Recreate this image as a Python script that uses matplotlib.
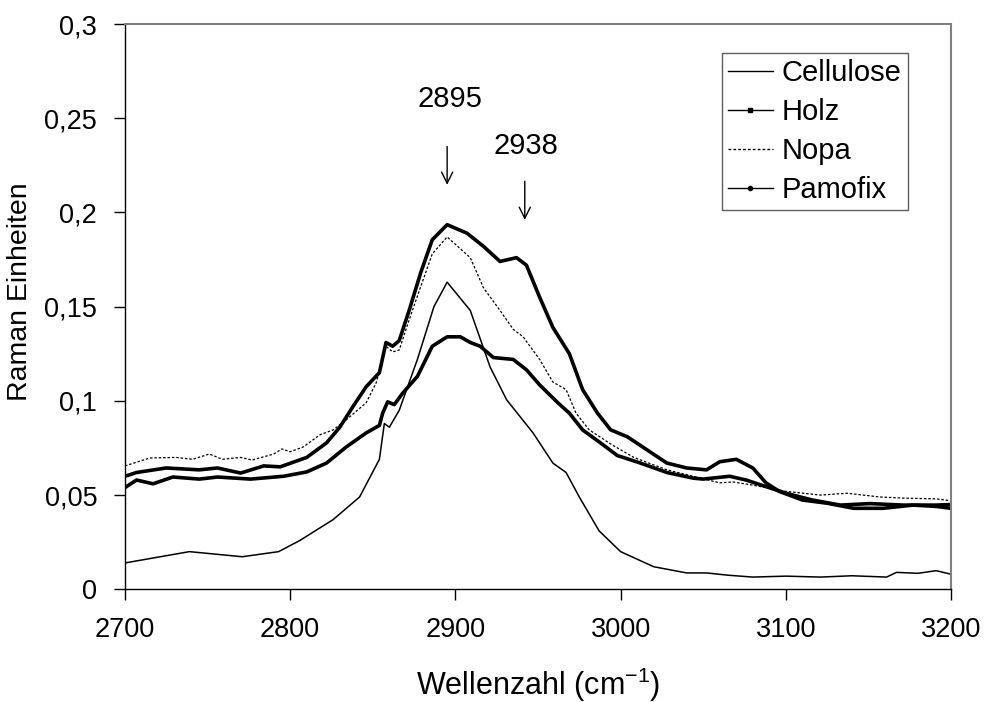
import matplotlib
matplotlib.use("Agg")
import matplotlib.pyplot as plt
from matplotlib.lines import Line2D
from matplotlib.ticker import FuncFormatter

plt.rcParams['font.family'] = ['Liberation Sans', 'DejaVu Sans']

# ---- data ----
cell_x = [2700, 2739, 2771, 2793, 2806, 2826, 2842, 2854, 2857, 2860, 2866, 2877, 2887, 2895,
          2909, 2921, 2931, 2947, 2959, 2967, 2975, 2987, 3000, 3020, 3040, 3052, 3065, 3080,
          3100, 3121, 3140, 3161, 3167, 3180, 3191, 3200]
cell_y = [0.014, 0.020, 0.0173, 0.020, 0.026, 0.037, 0.049, 0.069, 0.088, 0.086, 0.095, 0.122, 0.150, 0.163,
          0.148, 0.118, 0.1006, 0.083, 0.067, 0.062, 0.049, 0.031, 0.020, 0.012, 0.0087, 0.0087, 0.0075, 0.0065,
          0.0070, 0.0065, 0.0072, 0.0065, 0.009, 0.0085, 0.0099, 0.008]

holz_x = [2700, 2707, 2725, 2745, 2756, 2770, 2784, 2794, 2810, 2822, 2830, 2838, 2846, 2854, 2858,
          2862, 2866, 2872, 2879, 2886, 2895, 2907, 2917, 2927, 2937, 2943, 2951, 2959, 2969, 2977,
          2986, 2994, 3004, 3016, 3028, 3040, 3052, 3060, 3070, 3080, 3088, 3096, 3110, 3125,
          3141, 3159, 3177, 3191, 3200]
holz_y = [0.060, 0.062, 0.0644, 0.0634, 0.0644, 0.0617, 0.0655, 0.065, 0.070, 0.0777, 0.086, 0.097, 0.1075, 0.115, 0.131,
          0.129, 0.132, 0.148, 0.168, 0.1855, 0.1935, 0.189, 0.182, 0.174, 0.176, 0.172, 0.155, 0.139, 0.125, 0.106,
          0.0935, 0.0846, 0.081, 0.074, 0.067, 0.0644, 0.0634, 0.0677, 0.069, 0.0644, 0.0565, 0.052, 0.0474, 0.0457,
          0.043, 0.043, 0.0447, 0.044, 0.043]

nopa_x = [2700, 2715, 2731, 2741, 2751, 2759, 2770, 2777, 2790, 2795, 2800, 2808, 2818, 2826, 2834,
          2846, 2852, 2858, 2862, 2866, 2872, 2879, 2886, 2895, 2909, 2917, 2927, 2935, 2941, 2951,
          2959, 2967, 2973, 2981, 2995, 3008, 3028, 3044, 3060, 3068, 3080, 3100, 3121, 3137,
          3157, 3171, 3191, 3200]
nopa_y = [0.0655, 0.0697, 0.070, 0.069, 0.0718, 0.069, 0.070, 0.0686, 0.0718, 0.0745, 0.073, 0.0756, 0.082, 0.0846, 0.090,
          0.099, 0.1095, 0.129, 0.126, 0.127, 0.143, 0.1606, 0.178, 0.187, 0.176, 0.160, 0.148, 0.138, 0.134, 0.122,
          0.110, 0.106, 0.0935, 0.0846, 0.0766, 0.070, 0.0634, 0.060, 0.0565, 0.057, 0.0553, 0.052, 0.050, 0.051,
          0.049, 0.0484, 0.048, 0.047]

pamo_x = [2700, 2707, 2717, 2729, 2745, 2756, 2776, 2796, 2810, 2822, 2834, 2846, 2854, 2856, 2859,
          2863, 2868, 2877, 2886, 2895, 2903, 2909, 2915, 2923, 2935, 2943, 2951, 2962, 2969, 2977,
          2988, 2998, 3012, 3028, 3044, 3050, 3066, 3076, 3088, 3100, 3116, 3133, 3151, 3171,
          3191, 3200]
pamo_y = [0.054, 0.058, 0.056, 0.0596, 0.0585, 0.0596, 0.0585, 0.060, 0.0623, 0.067, 0.0756, 0.083, 0.087, 0.0935, 0.0995,
          0.098, 0.104, 0.113, 0.129, 0.134, 0.134, 0.131, 0.129, 0.123, 0.122, 0.1165, 0.1085, 0.099, 0.0935, 0.0846,
          0.0776, 0.071, 0.067, 0.062, 0.059, 0.0585, 0.060, 0.058, 0.0545, 0.051, 0.0474, 0.0447, 0.0455, 0.0447,
          0.0447, 0.045]

series_names = ["Cellulose", "Holz", "Nopa", "Pamofix"]
peak_labels = ["2895", "2938"]
peak_pos = [2895, 2942]

x_ticks = [2700, 2800, 2900, 3000, 3100, 3200]
y_ticks = [0, 0.05, 0.1, 0.15, 0.2, 0.25, 0.3]

# ---- figure ----
fig = plt.figure(figsize=(9.84, 7.02), dpi=100)
ax = fig.add_axes([0.127, 0.1605, 0.8395, 0.8053])

ax.plot(cell_x, cell_y, color='black', lw=1.1)
ax.plot(holz_x, holz_y, color='black', lw=2.6)
ax.plot(nopa_x, nopa_y, color='black', lw=0.9, linestyle=(0, (2, 1.5)))
ax.plot(pamo_x, pamo_y, color='black', lw=2.6)

ax.set_xlim(2700, 3200)
ax.set_ylim(0, 0.3)
ax.set_xticks(x_ticks)
ax.set_yticks(y_ticks)
ax.yaxis.set_major_formatter(FuncFormatter(lambda v, p: ('%g' % round(v, 3)).replace('.', ',')))
ax.tick_params(axis='both', direction='out', length=8, width=1, labelsize=19.5)
ax.tick_params(axis='x', pad=12)
ax.tick_params(axis='y', pad=12)

for s in ['left', 'bottom']:
    ax.spines[s].set_color('black')
    ax.spines[s].set_linewidth(1)
for s in ['top', 'right']:
    ax.spines[s].set_color('#808080')
    ax.spines[s].set_linewidth(1.5)

ax.set_xlabel('Wellenzahl (cm$^{\\mathregular{-1}}$)', fontsize=22, labelpad=16)
ax.set_ylabel('Raman Einheiten', fontsize=20.5)
ax.yaxis.set_label_coords(-0.1115, 0.527)

# annotations
ax.annotate('', xy=(peak_pos[0], 0.2132), xytext=(peak_pos[0], 0.2365),
            arrowprops=dict(arrowstyle='->', color='black', lw=1, mutation_scale=20))
ax.text(peak_pos[0] + 1.5, 0.260, peak_labels[0], ha='center', va='center', fontsize=21)
ax.annotate('', xy=(peak_pos[1], 0.1946), xytext=(peak_pos[1], 0.218),
            arrowprops=dict(arrowstyle='->', color='black', lw=1, mutation_scale=20))
ax.text(peak_pos[1] + 1, 0.235, peak_labels[1], ha='center', va='center', fontsize=21)

handles = [
    Line2D([0], [0], color='black', lw=1),
    Line2D([0], [0], color='black', lw=1, marker='s', markersize=3),
    Line2D([0], [0], color='black', lw=1, linestyle=(0, (2, 1.5))),
    Line2D([0], [0], color='black', lw=1, marker='o', markersize=3),
]
leg = fig.legend(handles, series_names, loc='upper left', bbox_to_anchor=(722 / 984, 1 - 53 / 702),
                 frameon=True, fancybox=False, fontsize=21, handlelength=1.55, handletextpad=0.3,
                 labelspacing=0.38, borderpad=0.2, borderaxespad=0)
leg.get_frame().set_edgecolor('#333333')
leg.get_frame().set_linewidth(1)

fig.savefig('out.png', dpi=100)
